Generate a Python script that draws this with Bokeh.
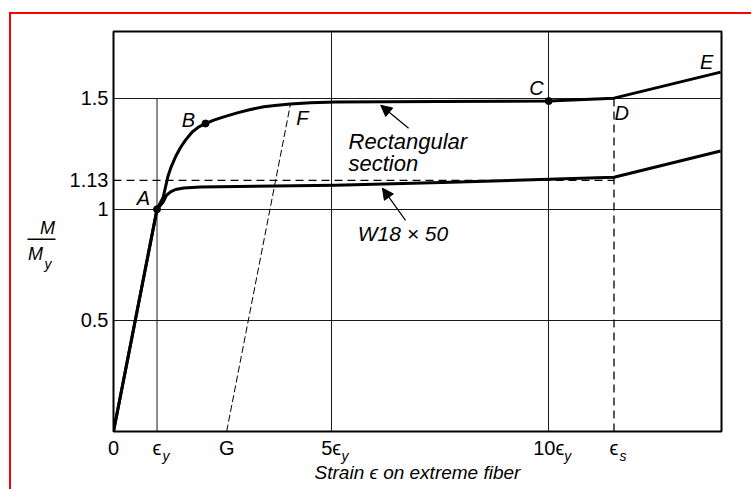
from bokeh.plotting import figure
from bokeh.layouts import row
from bokeh.models import (FixedTicker, Label, LabelSet, Arrow, NormalHead,
                          Range1d, ColumnDataSource, LinearAxis)
from bokeh.embed import file_html
from bokeh.resources import INLINE
from bokeh.core.properties import value

# ---------------- data (strain in units of eps_y, moment in M/My) ----------------
rect_x = [0, 1.0, 1.142, 1.195, 1.248, 1.325, 1.425, 1.54, 1.654, 1.808, 1.961, 2.114,
          2.305, 2.535, 2.842, 3.148, 3.454, 3.761, 4.067, 4.527, 5.1, 7.5, 10.0, 11.5,
          13.95]
rect_y = [0, 1.0, 1.055, 1.100, 1.146, 1.191, 1.236, 1.278, 1.311, 1.348, 1.371, 1.386,
          1.401, 1.416, 1.434, 1.449, 1.461, 1.468, 1.474, 1.479, 1.483, 1.485, 1.487,
          1.5, 1.617]

w_x = [0, 1.0, 1.142, 1.218, 1.31, 1.425, 1.616, 2.0, 5.1, 7.75, 10.0, 11.5, 13.95]
w_y = [0, 1.0, 1.033, 1.063, 1.078, 1.089, 1.096, 1.100, 1.108, 1.122, 1.135, 1.144,
       1.262]

point_names = ["A", "B", "C"]
point_x = [1.0, 2.114, 10.0]
point_y = [1.0, 1.386, 1.487]

letter_names = ["A", "B", "C", "D", "E", "F"]
letter_x = [0.69, 1.72, 9.72, 11.68, 13.63, 4.34]
letter_y = [1.05, 1.40, 1.545, 1.432, 1.662, 1.41]

eps_y = 1.0
eps_s = 11.5
g_x = 2.6
f_x, f_y = 4.07, 1.477
m_plastic_w = 1.13
m_plastic_rect = 1.5

x_ticks = [0, 1, 2.6, 5, 10, 11.5]
x_tick_text = ["0", "ϵ", "G", "5ϵ", "10ϵ", "ϵ"]
sub_ticks = [1, 5, 10, 11.5]
sub_text = ["y", "y", "y", "s"]
sub_offset_px = [9, 14, 19, 9]

y_ticks = [0.5, 1, 1.13, 1.5]
y_tick_text = ["0.5", "1", "1.13", "1.5"]

full_vgrid = [5, 10]
full_hgrid = [0.5, 1.0, 1.5]

X_END, Y_END = 13.97, 1.8
FONT = "Liberation Sans"

W_TOTAL, H = 740, 475
WL = 54                      # strip holding the M/My axis title
W = W_TOTAL - WL
ML, MR, MT, MB = 102 - WL, 30, 17, 58
px_per_x = (W - ML - MR) / X_END

p = figure(width=W, height=H, x_range=Range1d(0, X_END), y_range=Range1d(0, Y_END),
           output_backend="svg", toolbar_location=None,
           min_border_left=ML, min_border_right=MR, min_border_top=MT,
           min_border_bottom=MB)
p.title.visible = False
p.background_fill_color = "white"
p.border_fill_color = "white"
p.outline_line_color = "black"
p.outline_line_width = 2

# axes
p.xaxis.ticker = FixedTicker(ticks=x_ticks)
p.xaxis.major_label_overrides = {t: s for t, s in zip(x_ticks, x_tick_text)}
p.yaxis.ticker = FixedTicker(ticks=y_ticks)
p.yaxis.major_label_overrides = {t: s for t, s in zip(y_ticks, y_tick_text)}

sub_axis = LinearAxis(
    ticker=FixedTicker(ticks=[t + o / px_per_x for t, o in zip(sub_ticks, sub_offset_px)]),
    major_label_overrides={t + o / px_per_x: s for t, o, s in zip(sub_ticks, sub_offset_px, sub_text)},
    major_label_standoff=-14,
    axis_label="Strain ϵ on extreme fiber",
    axis_label_standoff=-5,
    axis_label_text_font=FONT,
    axis_label_text_font_style="italic",
    axis_label_text_font_size="19px",
    axis_label_text_color="black",
)
p.add_layout(sub_axis, "below")

for ax in (p.xaxis[0], p.yaxis[0], sub_axis):
    ax.axis_line_color = None
    ax.major_tick_line_color = None
    ax.minor_tick_line_color = None
    ax.major_tick_out = 0
    ax.major_tick_in = 0
    ax.minor_tick_out = 0
    ax.minor_tick_in = 0
    ax.major_label_text_font = FONT
    ax.major_label_text_font_size = "20px"
    ax.major_label_text_color = "black"
sub_axis.major_label_text_font_size = "14px"
sub_axis.major_label_text_font_style = "italic"
p.xaxis[0].major_label_standoff = 5
p.yaxis[0].major_label_standoff = 5

# grid
p.xgrid.ticker = FixedTicker(ticks=full_vgrid)
p.ygrid.ticker = FixedTicker(ticks=full_hgrid)
for g in (p.xgrid, p.ygrid):
    g.grid_line_color = "#1a1a1a"
    g.grid_line_width = 1

# partial reference lines
p.segment(x0=[eps_y], y0=[0], x1=[eps_y], y1=[m_plastic_rect],
          line_color="#1a1a1a", line_width=1)
p.segment(x0=[eps_s], y0=[0], x1=[eps_s], y1=[m_plastic_rect],
          line_color="black", line_width=1.3, line_dash="8 5")
p.segment(x0=[0], y0=[m_plastic_w], x1=[eps_s], y1=[m_plastic_w],
          line_color="black", line_width=1.3, line_dash="8 5")
p.line([g_x, f_x], [0, f_y], line_color="black", line_width=1, line_dash="7 3")

# curves
p.line(rect_x, rect_y, line_color="black", line_width=3, line_join="round")
p.line(w_x, w_y, line_color="black", line_width=3, line_join="round")
p.scatter(point_x, point_y, size=7, color="black")

# point letters
lsrc = ColumnDataSource(dict(x=letter_x, y=letter_y, t=letter_names))
p.add_layout(LabelSet(x="x", y="y", text="t", source=lsrc, text_align="center",
                      text_baseline="middle", text_font=value(FONT),
                      text_font_style="italic", text_font_size="20px",
                      text_color="black"))

def lab(fig, x, y, t, size="20px", align="left", baseline="middle", style="italic"):
    fig.add_layout(Label(x=x, y=y, text=t, text_align=align, text_baseline=baseline,
                         text_font=FONT, text_font_style=style, text_font_size=size,
                         text_color="black"))

lab(p, 5.40, 1.306, "Rectangular", size="22px")
lab(p, 5.40, 1.207, "section", size="22px")
lab(p, 5.61, 0.892, "W18 × 50", size="21px")

p.add_layout(Arrow(end=NormalHead(size=11, fill_color="black", line_color="black"),
                   x_start=6.78, y_start=1.365, x_end=6.14, y_end=1.468,
                   line_color="black", line_width=1.2))
p.add_layout(Arrow(end=NormalHead(size=11, fill_color="black", line_color="black"),
                   x_start=6.71, y_start=0.95, x_end=6.18, y_end=1.095,
                   line_color="black", line_width=1.2))

# ---- left strip: the y-axis title written as the fraction M / My ----
yl = figure(width=WL, height=H, x_range=Range1d(0, WL), y_range=p.y_range,
            output_backend="svg", toolbar_location=None,
            x_axis_location=None, y_axis_location=None,
            min_border_left=0, min_border_right=0, min_border_top=MT,
            min_border_bottom=MB)
yl.title.visible = False
yl.outline_line_color = None
yl.grid.visible = False
yl.background_fill_color = "white"
yl.border_fill_color = "white"
lab(yl, 36, 0.918, "M", size="18px", align="center")
yl.line([16, 44], [0.865, 0.865], line_color="black", line_width=1.5)
lab(yl, 24, 0.80, "M", size="18px", align="center")
lab(yl, 33, 0.755, "y", size="14px", align="left")

layout = row(yl, p, styles={"border-top": "2px solid #ff0000",
                            "border-left": "2px solid #ff0000"})
layout.margin = (12, 0, 0, 9)

open("out.html", "w").write(file_html(layout, INLINE))
